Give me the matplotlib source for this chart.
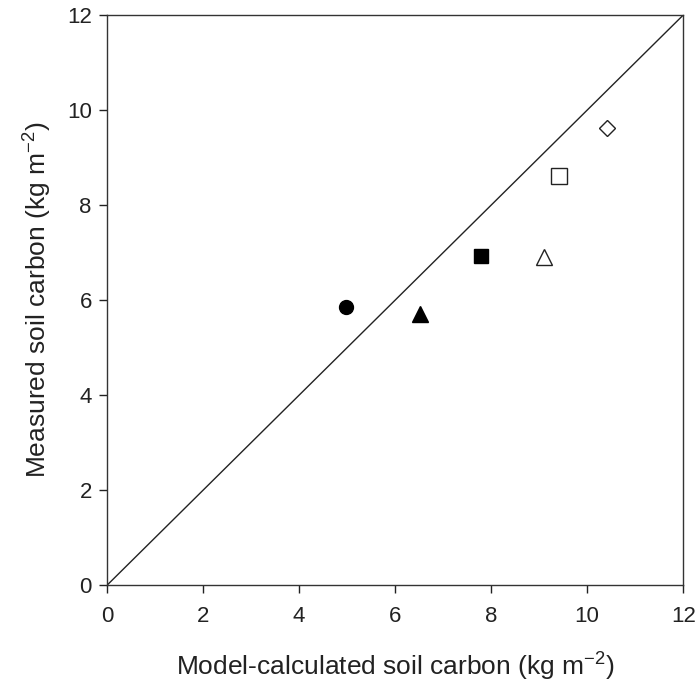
import matplotlib
matplotlib.use("Agg")
import matplotlib.pyplot as plt

plt.rcParams['font.family'] = ['Liberation Sans', 'DejaVu Sans']

model = [4.97, 6.52, 7.79, 9.10, 9.42, 10.42]
measured = [5.85, 5.71, 6.93, 6.91, 8.61, 9.62]
markers = ['o', '^', 's', '^', 's', 'D']
filled = [True, True, True, False, False, False]
sizes = [10, 11, 10, 11, 11, 8]
ticks = [0, 2, 4, 6, 8, 10, 12]

fig = plt.figure(figsize=(7.0, 6.86), dpi=100)
ax = fig.add_axes([0.153, 0.147, 0.823, 0.831])

ax.plot([0, 12], [0, 12], color='#222222', lw=1.0, zorder=1)
for x, y, m, f, s in zip(model, measured, markers, filled, sizes):
    ax.plot([x], [y], marker=m, linestyle='none', markersize=s,
            markerfacecolor='black' if f else 'white',
            markeredgecolor='#222222' if not f else 'black',
            markeredgewidth=1.0, zorder=3)

ax.set_xlim(0, 12)
ax.set_ylim(0, 12)
ax.set_xticks(ticks)
ax.set_yticks(ticks)
ax.tick_params(direction='out', length=6, width=1, labelsize=16, colors='#222222', pad=5)
ax.tick_params(axis='x', pad=9)
ax.tick_params(top=False, right=False)
for sp in ax.spines.values():
    sp.set_linewidth(1.0)
    sp.set_color('#333333')

ax.set_xlabel('Model-calculated soil carbon (kg m$^{\\mathregular{-2}}$)', fontsize=19, labelpad=16, color='#222222')
ax.set_ylabel('Measured soil carbon (kg m$^{\\mathregular{-2}}$)', fontsize=19, labelpad=10, color='#222222')

fig.savefig('out.png', dpi=100)
